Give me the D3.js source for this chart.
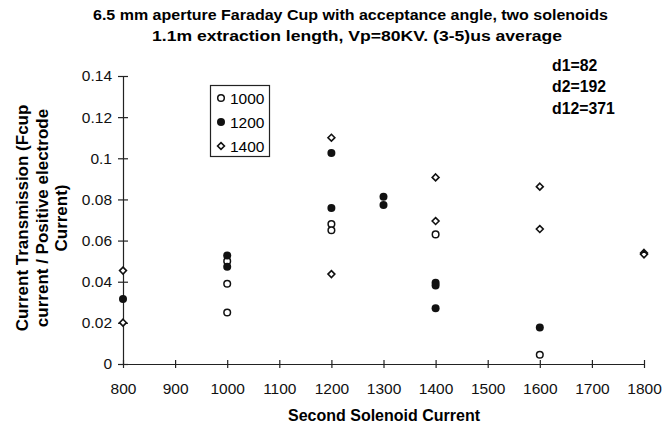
<!DOCTYPE html>
<html>
<head>
<meta charset="utf-8">
<script src="https://cdn.jsdelivr.net/npm/d3@7"></script>
<style>
  body { margin: 0; background: #fff; }
  svg { display: block; font-family: "Liberation Sans", Arial, sans-serif; }
</style>
</head>
<body>
<div id="chart"></div>
<script>
// data: [second solenoid current, transmission]
const s1000 = [[1000,0.050],[1000,0.039],[1000,0.025],[1200,0.068],[1200,0.065],[1400,0.063],[1600,0.0045]];
const s1200 = [[800,0.0316],[1000,0.0527],[1000,0.0473],[1200,0.1026],[1200,0.0758],[1300,0.0813],[1300,0.0773],
               [1400,0.0395],[1400,0.0382],[1400,0.0271],[1600,0.0178]];
const s1400 = [[800,0.0454],[800,0.0201],[1200,0.110],[1200,0.0437],[1400,0.0907],[1400,0.0695],
               [1600,0.0862],[1600,0.0656],[1800,0.0540],[1800,0.0533]];
const seriesNames = ['1000','1200','1400'];
const xTicks = [800,900,1000,1100,1200,1300,1400,1500,1600,1700,1800];
const yTicks = [0,0.02,0.04,0.06,0.08,0.1,0.12,0.14];
const titleLines = ['6.5 mm aperture Faraday Cup with acceptance angle, two solenoids',
                    '1.1m extraction length, Vp=80KV. (3-5)us average'];
const yTitleLines = ['Current Transmission (Fcup', 'current / Positive electrode', 'Current)'];
const notes = ['d1=82','d2=192','d12=371'];

const W = 664, H = 429;
const svg = d3.select('#chart').append('svg').attr('width', W).attr('height', H);

const x = d3.scaleLinear().domain([800,1800]).range([123,644]);
const y = d3.scaleLinear().domain([0,0.14]).range([364,76]);

// title (the scan is a bit stretched sideways, so fit the width)
const titleX = [350.5, 357], titleY = [19.5, 40.5], titleW = [515, 410];
svg.selectAll('.title').data(titleLines).enter().append('text')
  .attr('x', (d,i) => titleX[i]).attr('y', (d,i) => titleY[i])
  .attr('text-anchor','middle')
  .attr('textLength', (d,i) => titleW[i]).attr('lengthAdjust','spacingAndGlyphs')
  .style('font-weight','bold').style('font-size','14.5px')
  .text(d => d);

// axes
const xAxis = svg.append('g').attr('transform', `translate(0,${y(0)})`)
  .call(d3.axisBottom(x).tickValues(xTicks).tickSizeInner(5).tickSizeOuter(0).tickPadding(14)
    .tickFormat(d3.format('d')));
const yAxis = svg.append('g').attr('transform', `translate(${x(800)},0)`)
  .call(d3.axisLeft(y).tickValues(yTicks).tickSizeInner(5).tickSizeOuter(0).tickPadding(6)
    .tickFormat(d => String(+d.toFixed(2))));

[xAxis, yAxis].forEach(g => {
  g.select('.domain').attr('stroke','#222').attr('stroke-width',1.2);
  g.selectAll('.tick line').attr('stroke','#222').attr('stroke-width',1.2);
  g.selectAll('.tick text').attr('fill','#111').style('font-size','15.5px')
    .style('font-family','"Liberation Sans", Arial, sans-serif');
});
// ticks cross the axis
xAxis.selectAll('.tick line').attr('y1',-4).attr('y2',4);
yAxis.selectAll('.tick line').attr('x1',-5).attr('x2',5);

// axis titles
svg.append('text').attr('x', 384).attr('y', 421)
  .attr('text-anchor','middle').style('font-weight','bold').style('font-size','16px')
  .text('Second Solenoid Current');

svg.append('g').attr('transform','translate(0,218) rotate(-90)')
  .selectAll('text').data(yTitleLines).enter().append('text')
  .attr('x',0).attr('y',(d,i) => 28 + i*19.7)
  .attr('text-anchor','middle').style('font-weight','bold').style('font-size','17px')
  .text(d => d);

// notes
svg.selectAll('.note').data(notes).enter().append('text')
  .attr('x', 552).attr('y', (d,i) => 70.5 + i*21.5)
  .style('font-weight','bold').style('font-size','15.8px')
  .text(d => d);

// markers
const diamond = d3.symbol().type(d3.symbolDiamond2).size(30);
function drawMarker(sel, kind){
  if(kind === 0){
    sel.append('circle').attr('r',3.3).attr('fill','#fff').attr('stroke','#111').attr('stroke-width',1.5);
  } else if(kind === 1){
    sel.append('circle').attr('r',4).attr('fill','#111');
  } else {
    sel.append('path').attr('d', diamond).attr('fill','#fff').attr('stroke','#111').attr('stroke-width',1.6);
  }
}

[s1000, s1200, s1400].forEach((s,k) => {
  svg.append('g').selectAll('g').data(s).enter().append('g')
    .attr('transform', d => `translate(${x(d[0])},${y(d[1])})`)
    .call(drawMarker, k);
});

// legend
const legend = svg.append('g');
legend.append('rect').attr('x',210.5).attr('y',85.5).attr('width',59).attr('height',71)
  .attr('fill','#fff').attr('stroke','#222').attr('stroke-width',1.2);
seriesNames.forEach((n,k) => {
  const gy = 98 + k*24;
  legend.append('g').attr('transform',`translate(221,${gy})`).call(drawMarker, k);
  legend.append('text').attr('x',230).attr('y',gy+5.5).style('font-size','15.5px').text(n);
});
</script>
</body>
</html>
